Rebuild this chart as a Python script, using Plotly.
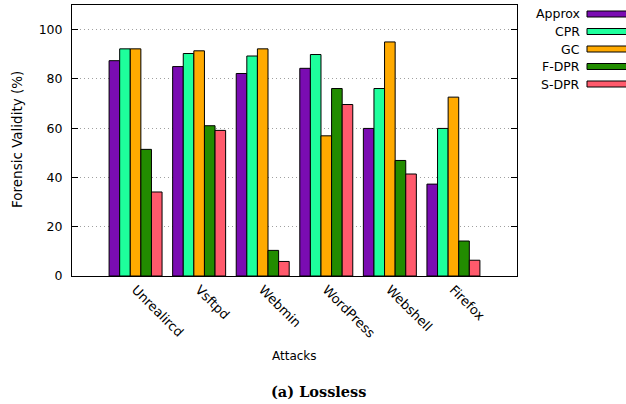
import plotly.graph_objects as go

categories = ["Unrealircd", "Vsftpd", "Webmin", "WordPress", "Webshell", "Firefox"]
series_names = ["Approx", "CPR", "GC", "F-DPR", "S-DPR"]
approx = [87.4, 85.0, 82.2, 84.3, 59.9, 37.3]
cpr = [92.2, 90.3, 89.3, 89.9, 76.1, 59.9]
gc = [92.2, 91.4, 92.2, 56.9, 95.0, 72.6]
f_dpr = [51.4, 61.0, 10.4, 76.1, 46.9, 14.2]
s_dpr = [34.1, 59.1, 5.9, 69.6, 41.4, 6.4]
y_ticks = [0, 20, 40, 60, 80, 100]

colors = ["#7a0cb2", "#1eff9c", "#ffaa00", "#228c00", "#ff5a6c"]
all_series = [approx, cpr, gc, f_dpr, s_dpr]

W, H = 626, 404
L, R, T, B = 72, 517, 5, 276
FONT = "DejaVu Sans"


def px_x(p):
    return (p - L) / (R - L)


def px_y(p):
    return (B - p) / (B - T)


x_idx = list(range(len(categories)))
fig = go.Figure()
for name, vals, col in zip(series_names, all_series, colors):
    fig.add_trace(go.Bar(
        x=x_idx, y=vals, name=name,
        marker=dict(color=col, line=dict(color="black", width=1)),
        showlegend=False,
    ))

shapes = []
annotations = []
# manual legend (text left of sample, as in the reference)
leg_y0 = 14
leg_dy = 17.5
for i, (name, col) in enumerate(zip(series_names, colors)):
    cy = leg_y0 + i * leg_dy
    shapes.append(dict(type="rect", xref="paper", yref="paper",
                       x0=px_x(587), x1=px_x(645), y0=px_y(cy + 3), y1=px_y(cy - 3),
                       fillcolor=col, line=dict(color="black", width=1)))
    annotations.append(dict(text=name, xref="paper", yref="paper",
                            x=px_x(582), y=px_y(cy), xanchor="right", yanchor="middle",
                            showarrow=False, font=dict(family=FONT, size=12.5, color="black")))

annotations.append(dict(text="Forensic Validity (%)", xref="paper", yref="paper",
                        x=px_x(17), y=px_y(140), textangle=-90, xanchor="center",
                        yanchor="middle", showarrow=False,
                        font=dict(family=FONT, size=13.5, color="black")))
annotations.append(dict(text="Attacks", xref="paper", yref="paper",
                        x=px_x(294.5), y=px_y(356), xanchor="center", yanchor="middle",
                        showarrow=False, font=dict(family=FONT, size=12, color="black")))
annotations.append(dict(text="<b>(a) Lossless</b>", xref="paper", yref="paper",
                        x=px_x(318), y=px_y(391), xanchor="center", yanchor="middle",
                        showarrow=False, font=dict(family="DejaVu Serif", size=14.5, color="black")))

fig.update_layout(
    width=W, height=H,
    margin=dict(l=L, r=W - R, t=T, b=H - B, pad=0),
    paper_bgcolor="white", plot_bgcolor="white",
    barmode="group", bargap=1 / 6, bargroupgap=0,
    shapes=shapes, annotations=annotations,
    font=dict(family=FONT, size=12, color="black"),
    xaxis=dict(
        range=[-1, len(categories)], tickvals=x_idx, ticktext=categories,
        tickangle=45, showgrid=False, zeroline=False, ticks="",
        showline=True, linecolor="black", linewidth=1, mirror=True,
        tickfont=dict(family=FONT, size=13, color="black"),
    ),
    yaxis=dict(
        range=[0, 110], tickvals=y_ticks, ticks="inside", ticklen=6,
        tickcolor="black", showgrid=True, gridcolor="#a0a0a0", griddash="1px,3px",
        gridwidth=1, zeroline=False, showline=True, linecolor="black",
        linewidth=1, mirror="ticks", ticklabelstandoff=6,
        tickfont=dict(family=FONT, size=12.5, color="black"),
    ),
)

fig.write_html(
    "out.html",
    config={"displayModeBar": False},
    post_script="document.body.style.margin='0px';document.body.style.padding='0px';",
)
